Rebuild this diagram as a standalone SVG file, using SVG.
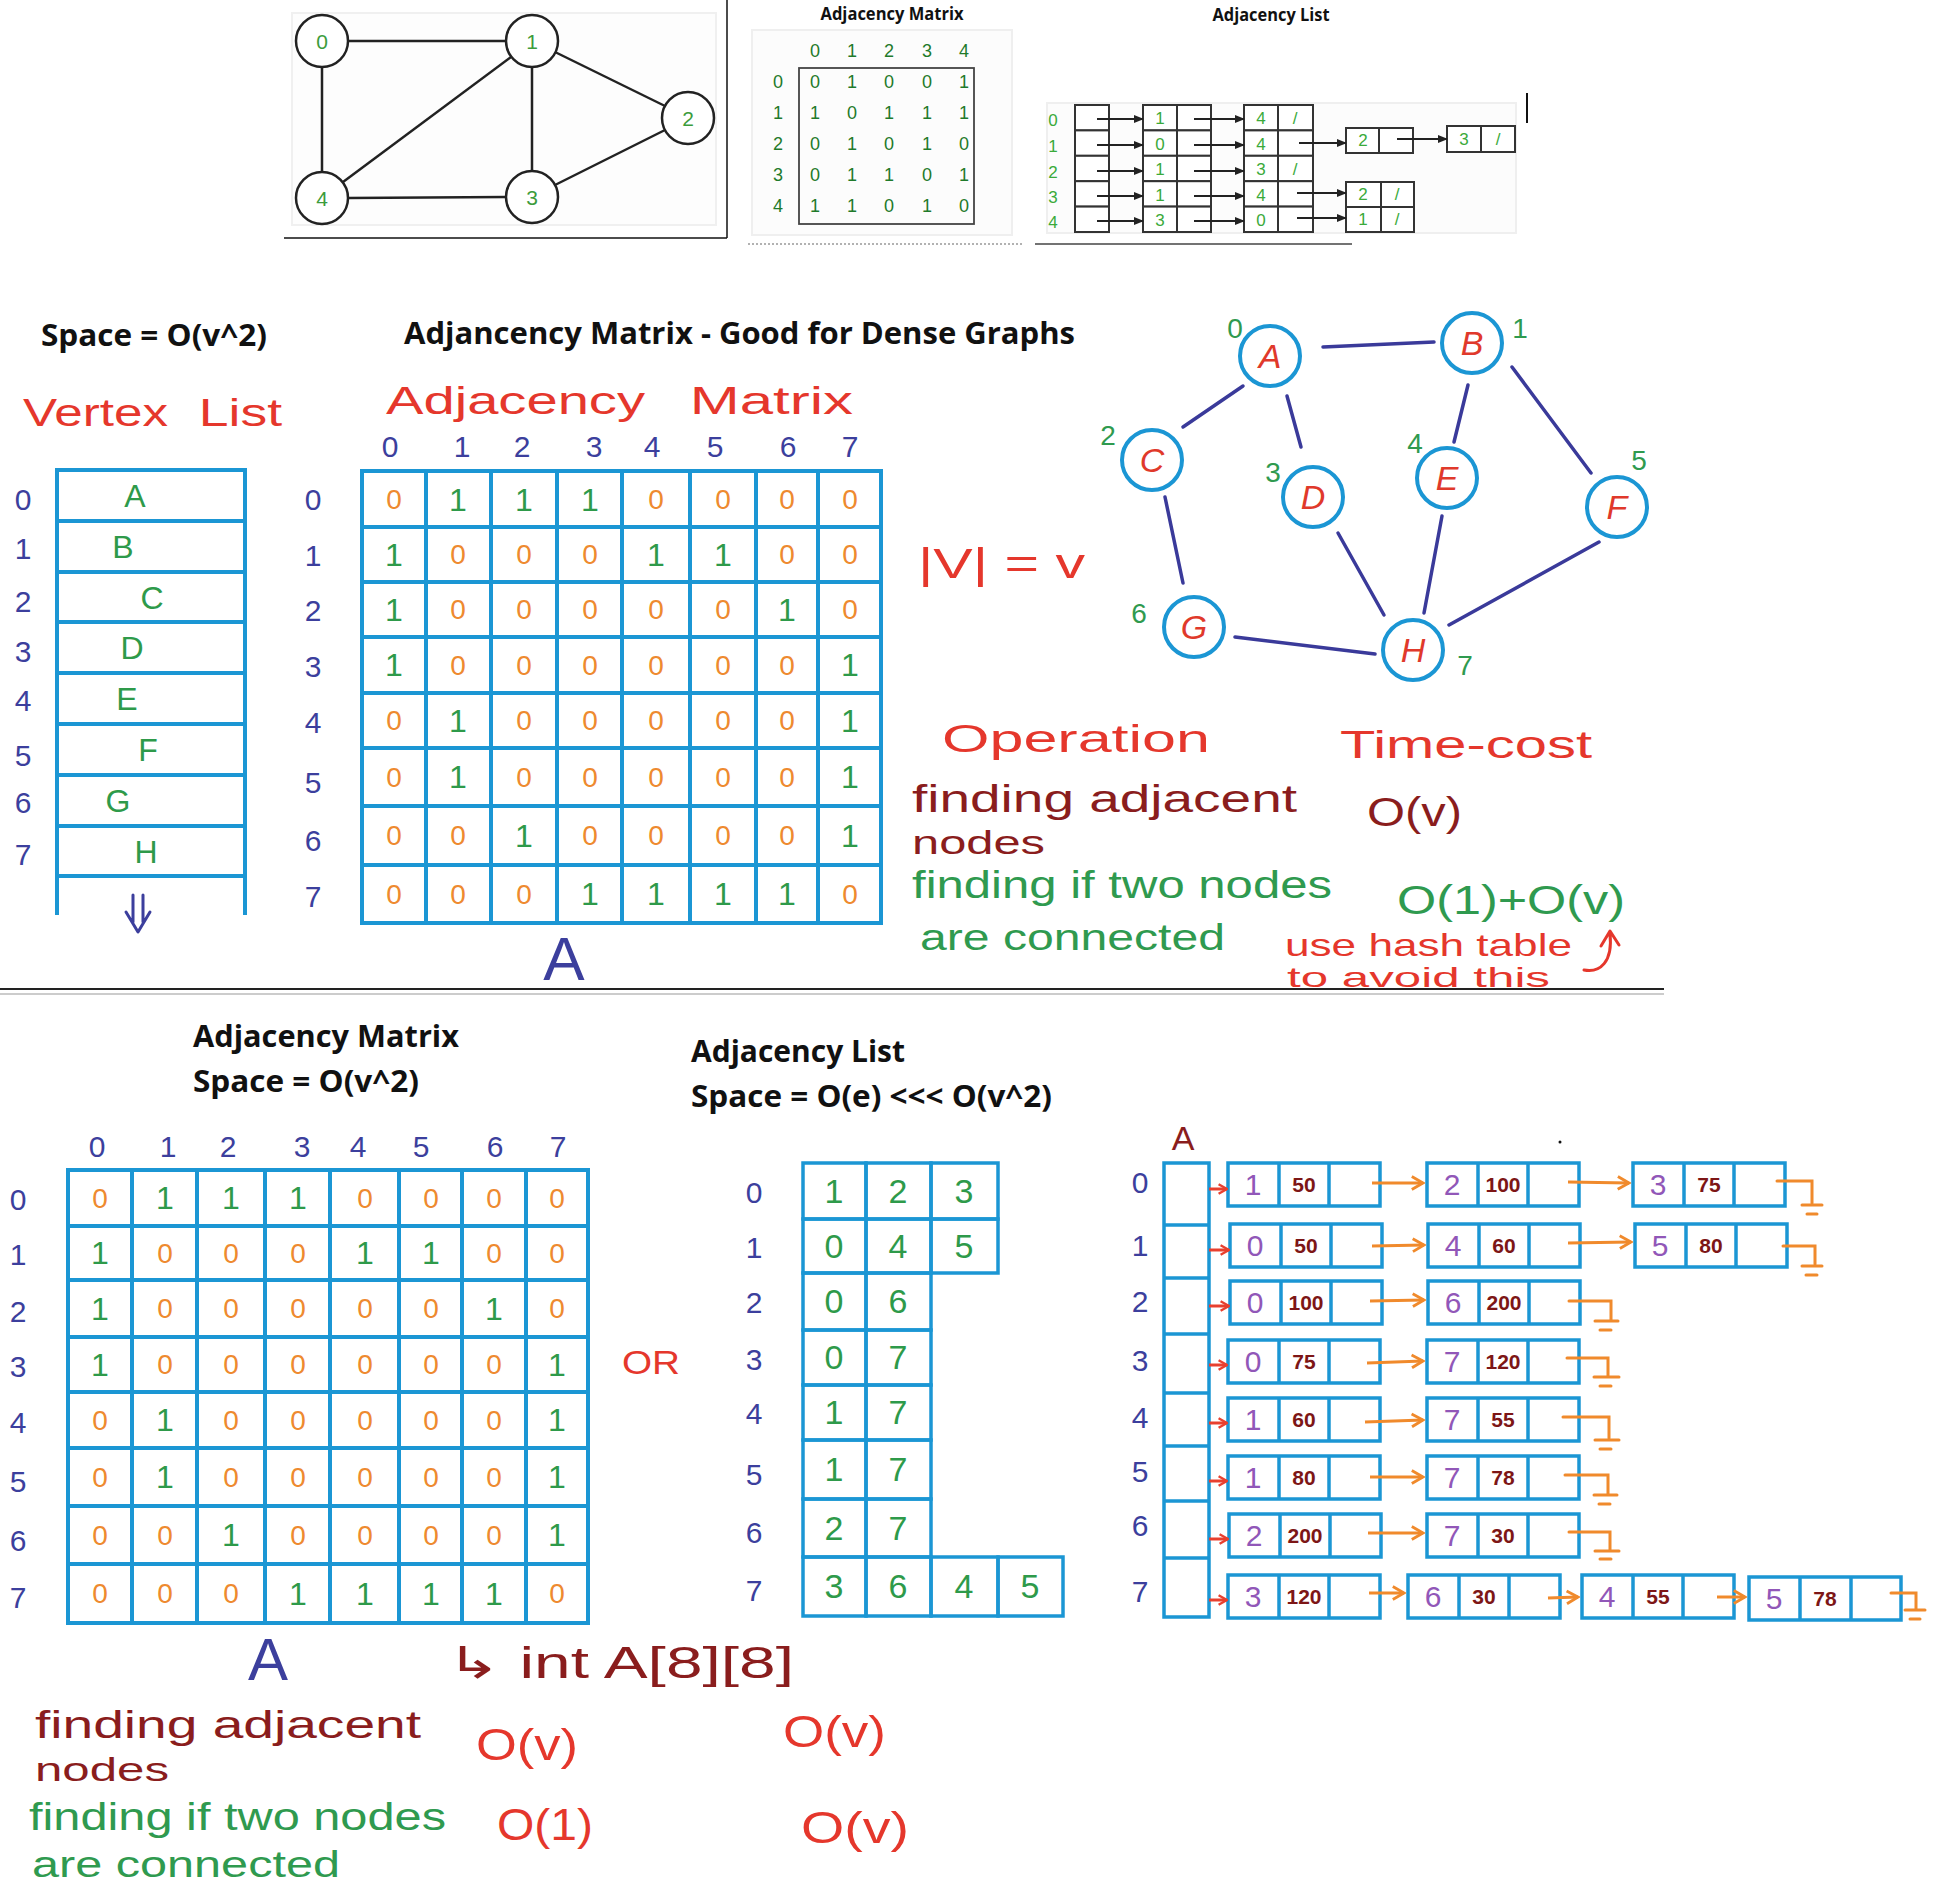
<svg xmlns="http://www.w3.org/2000/svg" width="1938" height="1896" viewBox="0 0 1938 1896">
<style>
text{font-family:"Liberation Sans","DejaVu Sans",Arial,sans-serif}
.ar{font-family:"Liberation Sans",Arial,sans-serif}
.bt{font-family:"Open Sans","Liberation Sans",sans-serif;font-weight:700;fill:#111}
.grid{fill:none;stroke:#1b96d4;stroke-width:4}
.z{fill:#ee8a2f;font-size:28px;text-anchor:middle}
.one{fill:#2e9a4a;font-size:32px;text-anchor:middle}
.idx{fill:#3c3f9d;font-size:30px;text-anchor:middle}
.lt{fill:#2e9a4a;font-size:32px;text-anchor:middle}
.red{fill:#e5372c}
.dred{fill:#8a1d1d}
.grn{fill:#2f9a4f}
.tnode{fill:#fff;stroke:#222;stroke-width:2.5}
.tedge{stroke:#222;stroke-width:2.5}
.tlbl{fill:#3c9c3c;font-size:21px;text-anchor:middle}
.tm{fill:#1f7a2a;font-size:18px;text-anchor:middle}
.tl{fill:#3aaa3a;font-size:17px;text-anchor:middle}
.tbox{fill:#fff;stroke:#333;stroke-width:2}
.tarr{stroke:#222;stroke-width:2;marker-end:url(#ab)}
.gnode{fill:#fff;stroke:#1b96d4;stroke-width:4}
.gl{fill:#e0392b;font-size:34px;font-style:italic;text-anchor:middle}
.gi{fill:#2f9a4f;font-size:28px;text-anchor:middle}
.gedge{stroke:#3a3a9a;stroke-width:3.5;stroke-linecap:round}
.cell{fill:none;stroke:#1b96d4;stroke-width:3.5}
.lv{fill:#2e9a4a;font-size:34px;text-anchor:middle}
.vx{fill:#9157b8;font-size:30px;text-anchor:middle}
.wt{fill:#7d1616;font-size:21px;text-anchor:middle;font-weight:700}
.rarr{stroke:#e8402f;stroke-width:3;marker-end:url(#ar)}
.oarr{stroke:#f08a2c;stroke-width:3;marker-end:url(#ao)}
.nul{fill:none;stroke:#f08a2c;stroke-width:3;stroke-linecap:round}
</style>
<defs>
<marker id="ab" viewBox="0 0 10 10" refX="9" refY="5" markerWidth="10" markerHeight="10" markerUnits="userSpaceOnUse" orient="auto"><path d="M0,1 L10,5 L0,9 z" fill="#222"/></marker>
<marker id="ar" viewBox="0 0 10 10" refX="9" refY="5" markerWidth="12" markerHeight="12" markerUnits="userSpaceOnUse" orient="auto"><path d="M2,1 L9,5 L2,9" fill="none" stroke="#e8402f" stroke-width="2"/></marker>
<marker id="ao" viewBox="0 0 10 10" refX="9" refY="5" markerWidth="16" markerHeight="16" markerUnits="userSpaceOnUse" orient="auto"><path d="M2,1 L9,5 L2,9" fill="none" stroke="#f08a2c" stroke-width="1.8"/></marker>
</defs>
<rect width="1938" height="1896" fill="#fff"/>

<!-- ===== TOP: small graph ===== -->
<g id="top-graph-frame">
<rect x="292" y="13" width="424" height="212" fill="#fdfdfd" stroke="#f0f0f0" stroke-width="2"/>
<line x1="284" y1="238" x2="727" y2="238" stroke="#111" stroke-width="1.5"/>
<line x1="727" y1="0" x2="727" y2="238" stroke="#111" stroke-width="1.5"/>
</g>
<g id="top-graph-edges">
<line class="tedge" x1="348" y1="41" x2="506" y2="41"/>
<line class="tedge" x1="322" y1="67" x2="322" y2="172"/>
<line class="tedge" x1="532" y1="67" x2="532" y2="171"/>
<line class="tedge" x1="348" y1="198" x2="506" y2="197"/>
<line class="tedge" x1="511" y1="57" x2="343" y2="182"/>
<line class="tedge" x1="555" y1="52" x2="665" y2="106"/>
<line class="tedge" x1="665" y1="130" x2="555" y2="185"/>
</g>
<g id="tnode-0"><circle class="tnode" cx="322" cy="41" r="26"/><text class="tlbl" x="322" y="49">0</text></g>
<g id="tnode-1"><circle class="tnode" cx="532" cy="41" r="26"/><text class="tlbl" x="532" y="49">1</text></g>
<g id="tnode-2"><circle class="tnode" cx="688" cy="118" r="26"/><text class="tlbl" x="688" y="126">2</text></g>
<g id="tnode-3"><circle class="tnode" cx="532" cy="197" r="26"/><text class="tlbl" x="532" y="205">3</text></g>
<g id="tnode-4"><circle class="tnode" cx="322" cy="198" r="26"/><text class="tlbl" x="322" y="206">4</text></g>

<!-- ===== TOP: small matrix ===== -->
<g id="top-matrix">
<rect x="752" y="30" width="260" height="205" fill="#fcfcfc" stroke="#efefef" stroke-width="2"/>
<text class="bt" x="892" y="20" font-size="17" text-anchor="middle" textLength="143" lengthAdjust="spacingAndGlyphs">Adjacency Matrix</text>
<rect x="799" y="68" width="175" height="156" fill="none" stroke="#444" stroke-width="1.8"/>
<text class="tm" x="815" y="57">0</text><text class="tm" x="852" y="57">1</text><text class="tm" x="889" y="57">2</text><text class="tm" x="927" y="57">3</text><text class="tm" x="964" y="57">4</text>
<text class="tm" x="778" y="88">0</text><text class="tm" x="778" y="119">1</text><text class="tm" x="778" y="150">2</text><text class="tm" x="778" y="181">3</text><text class="tm" x="778" y="212">4</text>
<text class="tm" x="815" y="88">0</text><text class="tm" x="852" y="88">1</text><text class="tm" x="889" y="88">0</text><text class="tm" x="927" y="88">0</text><text class="tm" x="964" y="88">1</text>
<text class="tm" x="815" y="119">1</text><text class="tm" x="852" y="119">0</text><text class="tm" x="889" y="119">1</text><text class="tm" x="927" y="119">1</text><text class="tm" x="964" y="119">1</text>
<text class="tm" x="815" y="150">0</text><text class="tm" x="852" y="150">1</text><text class="tm" x="889" y="150">0</text><text class="tm" x="927" y="150">1</text><text class="tm" x="964" y="150">0</text>
<text class="tm" x="815" y="181">0</text><text class="tm" x="852" y="181">1</text><text class="tm" x="889" y="181">1</text><text class="tm" x="927" y="181">0</text><text class="tm" x="964" y="181">1</text>
<text class="tm" x="815" y="212">1</text><text class="tm" x="852" y="212">1</text><text class="tm" x="889" y="212">0</text><text class="tm" x="927" y="212">1</text><text class="tm" x="964" y="212">0</text>
<line x1="748" y1="244" x2="1022" y2="244" stroke="#999" stroke-width="1.5" stroke-dasharray="2 2"/>
</g>

<!-- ===== TOP: small adjacency list ===== -->
<g id="top-list">
<text class="bt" x="1271" y="21" font-size="17" text-anchor="middle" textLength="117" lengthAdjust="spacingAndGlyphs">Adjacency List</text>
<rect x="1047" y="103" width="469" height="130" fill="#fcfcfc" stroke="#efefef" stroke-width="2"/>
<text class="tl" x="1053" y="126">0</text><text class="tl" x="1053" y="152">1</text><text class="tl" x="1053" y="178">2</text><text class="tl" x="1053" y="203">3</text><text class="tl" x="1053" y="228">4</text>
<g id="top-list-cells">
<rect class="tbox" x="1075" y="105" width="34" height="25.4"/><rect class="tbox" x="1075" y="130.4" width="34" height="25.4"/><rect class="tbox" x="1075" y="155.8" width="34" height="25.4"/><rect class="tbox" x="1075" y="181.2" width="34" height="25.4"/><rect class="tbox" x="1075" y="206.6" width="34" height="25.4"/>
<rect class="tbox" x="1143" y="105" width="68" height="25.4"/><rect class="tbox" x="1143" y="130.4" width="68" height="25.4"/><rect class="tbox" x="1143" y="155.8" width="68" height="25.4"/><rect class="tbox" x="1143" y="181.2" width="68" height="25.4"/><rect class="tbox" x="1143" y="206.6" width="68" height="25.4"/>
<line x1="1177" y1="105" x2="1177" y2="232" stroke="#333" stroke-width="2"/>
<rect class="tbox" x="1244" y="105" width="69" height="25.4"/><rect class="tbox" x="1244" y="130.4" width="69" height="25.4"/><rect class="tbox" x="1244" y="155.8" width="69" height="25.4"/><rect class="tbox" x="1244" y="181.2" width="69" height="25.4"/><rect class="tbox" x="1244" y="206.6" width="69" height="25.4"/>
<line x1="1278" y1="105" x2="1278" y2="232" stroke="#333" stroke-width="2"/>
<rect class="tbox" x="1346" y="128" width="67" height="25"/><line x1="1379" y1="128" x2="1379" y2="153" stroke="#333" stroke-width="2"/>
<rect class="tbox" x="1447" y="126" width="68" height="26"/><line x1="1481" y1="126" x2="1481" y2="152" stroke="#333" stroke-width="2"/>
<rect class="tbox" x="1346" y="182" width="68" height="25"/><rect class="tbox" x="1346" y="207" width="68" height="25"/><line x1="1381" y1="182" x2="1381" y2="232" stroke="#333" stroke-width="2"/>
</g>
<g id="top-list-arrows">
<line class="tarr" x1="1097" y1="119" x2="1143" y2="119"/><line class="tarr" x1="1097" y1="145" x2="1143" y2="145"/><line class="tarr" x1="1097" y1="171" x2="1143" y2="171"/><line class="tarr" x1="1097" y1="196" x2="1143" y2="196"/><line class="tarr" x1="1097" y1="221" x2="1143" y2="221"/>
<line class="tarr" x1="1194" y1="119" x2="1244" y2="119"/><line class="tarr" x1="1194" y1="145" x2="1244" y2="145"/><line class="tarr" x1="1194" y1="171" x2="1244" y2="171"/><line class="tarr" x1="1194" y1="196" x2="1244" y2="196"/><line class="tarr" x1="1194" y1="221" x2="1244" y2="221"/>
<line class="tarr" x1="1299" y1="143" x2="1346" y2="143"/>
<line class="tarr" x1="1397" y1="139" x2="1447" y2="139"/>
<line class="tarr" x1="1297" y1="193" x2="1346" y2="193"/>
<line class="tarr" x1="1297" y1="218" x2="1346" y2="218"/>
</g>
<text class="tl" x="1160" y="124">1</text><text class="tl" x="1160" y="150">0</text><text class="tl" x="1160" y="175">1</text><text class="tl" x="1160" y="201">1</text><text class="tl" x="1160" y="226">3</text>
<text class="tl" x="1261" y="124">4</text><text class="tl" x="1261" y="150">4</text><text class="tl" x="1261" y="175">3</text><text class="tl" x="1261" y="201">4</text><text class="tl" x="1261" y="226">0</text>
<text class="tl" x="1295" y="124">/</text><text class="tl" x="1295" y="175">/</text>
<text class="tl" x="1363" y="146">2</text>
<text class="tl" x="1464" y="145">3</text><text class="tl" x="1498" y="145">/</text>
<text class="tl" x="1363" y="200">2</text><text class="tl" x="1397" y="200">/</text>
<text class="tl" x="1363" y="225">1</text><text class="tl" x="1397" y="225">/</text>
<line x1="1527" y1="93" x2="1527" y2="123" stroke="#111" stroke-width="2"/>
<line x1="1035" y1="244" x2="1352" y2="244" stroke="#444" stroke-width="1.5"/>
</g>

<!-- ===== MIDDLE SECTION ===== -->
<text class="bt" x="41" y="346" font-size="30" textLength="226" lengthAdjust="spacingAndGlyphs">Space = O(v^2)</text>
<text class="bt" x="404" y="344" font-size="30" textLength="671" lengthAdjust="spacingAndGlyphs">Adjancency Matrix - Good for Dense Graphs</text>

<text class="red" y="426" font-size="38"><tspan x="23" textLength="145" lengthAdjust="spacingAndGlyphs">Vertex</tspan><tspan x="184" textLength="98" lengthAdjust="spacingAndGlyphs"> List</tspan></text>
<text class="red" y="414" font-size="38"><tspan x="386" textLength="259" lengthAdjust="spacingAndGlyphs">Adjacency</tspan><tspan x="673" textLength="180" lengthAdjust="spacingAndGlyphs"> Matrix</tspan></text>

<g id="vertex-list">
<path class="grid" d="M57,915 V470 H245 V915 M57,521 H245 M57,572 H245 M57,622 H245 M57,673 H245 M57,724 H245 M57,775 H245 M57,826 H245 M57,876 H245"/>
<text class="idx" x="23" y="510">0</text><text class="idx" x="23" y="559">1</text><text class="idx" x="23" y="612">2</text><text class="idx" x="23" y="662">3</text><text class="idx" x="23" y="711">4</text><text class="idx" x="23" y="766">5</text><text class="idx" x="23" y="813">6</text><text class="idx" x="23" y="865">7</text>
<text class="lt" x="135" y="507">A</text><text class="lt" x="123" y="558">B</text><text class="lt" x="152" y="609">C</text><text class="lt" x="132" y="659">D</text><text class="lt" x="127" y="710">E</text><text class="lt" x="148" y="761">F</text><text class="lt" x="118" y="812">G</text><text class="lt" x="146" y="863">H</text>
<path d="M133,895 V922 M143,895 V922 M126,912 L138,932 L150,912" fill="none" stroke="#3c3f9d" stroke-width="3" stroke-linecap="round" stroke-linejoin="round"/>
</g>

<g id="mid-matrix">
<path class="grid" d="M362,471 H881 V923 H362 Z M426,471 V923 M491,471 V923 M557,471 V923 M622,471 V923 M690,471 V923 M756,471 V923 M818,471 V923 M362,527 H881 M362,582 H881 M362,637 H881 M362,693 H881 M362,748 H881 M362,806 H881 M362,865 H881"/>
<text class="idx" x="390" y="457" font-size="32">0</text><text class="idx" x="462" y="457" font-size="32">1</text><text class="idx" x="522" y="457" font-size="32">2</text><text class="idx" x="594" y="457" font-size="32">3</text><text class="idx" x="652" y="457" font-size="32">4</text><text class="idx" x="715" y="457" font-size="32">5</text><text class="idx" x="788" y="457" font-size="32">6</text><text class="idx" x="850" y="457" font-size="32">7</text>
<text class="idx" x="313" y="510">0</text><text class="idx" x="313" y="566">1</text><text class="idx" x="313" y="621">2</text><text class="idx" x="313" y="677">3</text><text class="idx" x="313" y="733">4</text><text class="idx" x="313" y="793">5</text><text class="idx" x="313" y="851">6</text><text class="idx" x="313" y="907">7</text>
<text class="z" x="394" y="509">0</text><text class="one" x="458" y="511">1</text><text class="one" x="524" y="511">1</text><text class="one" x="590" y="511">1</text><text class="z" x="656" y="509">0</text><text class="z" x="723" y="509">0</text><text class="z" x="787" y="509">0</text><text class="z" x="850" y="509">0</text>
<text class="one" x="394" y="566">1</text><text class="z" x="458" y="564">0</text><text class="z" x="524" y="564">0</text><text class="z" x="590" y="564">0</text><text class="one" x="656" y="566">1</text><text class="one" x="723" y="566">1</text><text class="z" x="787" y="564">0</text><text class="z" x="850" y="564">0</text>
<text class="one" x="394" y="621">1</text><text class="z" x="458" y="619">0</text><text class="z" x="524" y="619">0</text><text class="z" x="590" y="619">0</text><text class="z" x="656" y="619">0</text><text class="z" x="723" y="619">0</text><text class="one" x="787" y="621">1</text><text class="z" x="850" y="619">0</text>
<text class="one" x="394" y="676">1</text><text class="z" x="458" y="675">0</text><text class="z" x="524" y="675">0</text><text class="z" x="590" y="675">0</text><text class="z" x="656" y="675">0</text><text class="z" x="723" y="675">0</text><text class="z" x="787" y="675">0</text><text class="one" x="850" y="676">1</text>
<text class="z" x="394" y="730">0</text><text class="one" x="458" y="732">1</text><text class="z" x="524" y="730">0</text><text class="z" x="590" y="730">0</text><text class="z" x="656" y="730">0</text><text class="z" x="723" y="730">0</text><text class="z" x="787" y="730">0</text><text class="one" x="850" y="732">1</text>
<text class="z" x="394" y="787">0</text><text class="one" x="458" y="788">1</text><text class="z" x="524" y="787">0</text><text class="z" x="590" y="787">0</text><text class="z" x="656" y="787">0</text><text class="z" x="723" y="787">0</text><text class="z" x="787" y="787">0</text><text class="one" x="850" y="788">1</text>
<text class="z" x="394" y="845">0</text><text class="z" x="458" y="845">0</text><text class="one" x="524" y="847">1</text><text class="z" x="590" y="845">0</text><text class="z" x="656" y="845">0</text><text class="z" x="723" y="845">0</text><text class="z" x="787" y="845">0</text><text class="one" x="850" y="847">1</text>
<text class="z" x="394" y="904">0</text><text class="z" x="458" y="904">0</text><text class="z" x="524" y="904">0</text><text class="one" x="590" y="905">1</text><text class="one" x="656" y="905">1</text><text class="one" x="723" y="905">1</text><text class="one" x="787" y="905">1</text><text class="z" x="850" y="904">0</text>
<text x="564" y="980" font-size="62" fill="#3c3f9d" text-anchor="middle">A</text>
</g>

<text class="red" x="918" y="578" font-size="42" textLength="167" lengthAdjust="spacingAndGlyphs">|V| = v</text>

<!-- middle graph -->
<g id="mid-graph-edges">
<line class="gedge" x1="1323" y1="347" x2="1434" y2="342"/>
<line class="gedge" x1="1243" y1="386" x2="1183" y2="427"/>
<line class="gedge" x1="1287" y1="396" x2="1301" y2="447"/>
<line class="gedge" x1="1468" y1="385" x2="1454" y2="442"/>
<line class="gedge" x1="1512" y1="367" x2="1591" y2="473"/>
<line class="gedge" x1="1165" y1="497" x2="1183" y2="583"/>
<line class="gedge" x1="1338" y1="533" x2="1384" y2="615"/>
<line class="gedge" x1="1442" y1="516" x2="1424" y2="613"/>
<line class="gedge" x1="1599" y1="542" x2="1449" y2="625"/>
<line class="gedge" x1="1235" y1="637" x2="1375" y2="654"/>
</g>
<g id="node-A"><circle class="gnode" cx="1270" cy="356" r="30"/><text class="gl" x="1270" y="368">A</text><text class="gi" x="1235" y="338">0</text></g>
<g id="node-B"><circle class="gnode" cx="1472" cy="343" r="30"/><text class="gl" x="1472" y="355">B</text><text class="gi" x="1520" y="338">1</text></g>
<g id="node-C"><circle class="gnode" cx="1152" cy="460" r="30"/><text class="gl" x="1152" y="472">C</text><text class="gi" x="1108" y="445">2</text></g>
<g id="node-D"><circle class="gnode" cx="1313" cy="497" r="30"/><text class="gl" x="1313" y="509">D</text><text class="gi" x="1273" y="482">3</text></g>
<g id="node-E"><circle class="gnode" cx="1447" cy="478" r="30"/><text class="gl" x="1447" y="490">E</text><text class="gi" x="1415" y="453">4</text></g>
<g id="node-F"><circle class="gnode" cx="1617" cy="507" r="30"/><text class="gl" x="1617" y="519">F</text><text class="gi" x="1639" y="470">5</text></g>
<g id="node-G"><circle class="gnode" cx="1194" cy="627" r="30"/><text class="gl" x="1194" y="639">G</text><text class="gi" x="1139" y="623">6</text></g>
<g id="node-H"><circle class="gnode" cx="1413" cy="650" r="30"/><text class="gl" x="1413" y="662">H</text><text class="gi" x="1465" y="675">7</text></g>

<g id="mid-ops">
<text class="red" x="942" y="752" font-size="38" textLength="268" lengthAdjust="spacingAndGlyphs">Operation</text>
<text class="red" x="1340" y="758" font-size="38" textLength="252" lengthAdjust="spacingAndGlyphs">Time-cost</text>
<text class="dred" x="912" y="812" font-size="38" textLength="385" lengthAdjust="spacingAndGlyphs">finding adjacent</text>
<text class="dred" x="912" y="854" font-size="34" textLength="133" lengthAdjust="spacingAndGlyphs">nodes</text>
<text class="dred" x="1367" y="826" font-size="40" textLength="95" lengthAdjust="spacingAndGlyphs">O(v)</text>
<text class="grn" x="912" y="898" font-size="38" textLength="420" lengthAdjust="spacingAndGlyphs">finding if two nodes</text>
<text class="grn" x="920" y="950" font-size="36" textLength="305" lengthAdjust="spacingAndGlyphs">are connected</text>
<text class="grn" x="1397" y="914" font-size="40" textLength="228" lengthAdjust="spacingAndGlyphs">O(1)+O(v)</text>
<text class="red" x="1285" y="956" font-size="32" textLength="287" lengthAdjust="spacingAndGlyphs">use hash table</text>
<text class="red" x="1287" y="987" font-size="28" textLength="263" lengthAdjust="spacingAndGlyphs">to avoid this</text>
<path d="M1584,970 C1600,973 1613,962 1610,934 M1601,946 L1610,931 L1619,945" fill="none" stroke="#e5372c" stroke-width="3" stroke-linecap="round" stroke-linejoin="round"/>
</g>

<line x1="0" y1="989" x2="1664" y2="989" stroke="#222" stroke-width="2"/>
<line x1="0" y1="994" x2="1664" y2="994" stroke="#999" stroke-width="1"/>

<!-- ===== BOTTOM SECTION ===== -->
<text class="bt" x="193" y="1047" font-size="30" textLength="266" lengthAdjust="spacingAndGlyphs">Adjacency Matrix</text>
<text class="bt" x="193" y="1092" font-size="30" textLength="226" lengthAdjust="spacingAndGlyphs">Space = O(v^2)</text>
<text class="bt" x="691" y="1062" font-size="30" textLength="214" lengthAdjust="spacingAndGlyphs">Adjacency List</text>
<text class="bt" x="691" y="1107" font-size="30" textLength="361" lengthAdjust="spacingAndGlyphs">Space = O(e) &lt;&lt;&lt; O(v^2)</text>

<g id="bottom-matrix">
<path class="grid" d="M68,1170 H588 V1623 H68 Z M132,1170 V1623 M197,1170 V1623 M265,1170 V1623 M330,1170 V1623 M399,1170 V1623 M462,1170 V1623 M526,1170 V1623 M68,1226 H588 M68,1280 H588 M68,1337 H588 M68,1392 H588 M68,1448 H588 M68,1506 H588 M68,1564 H588"/>
<text class="idx" x="97" y="1157" font-size="32">0</text><text class="idx" x="168" y="1157" font-size="32">1</text><text class="idx" x="228" y="1157" font-size="32">2</text><text class="idx" x="302" y="1157" font-size="32">3</text><text class="idx" x="358" y="1157" font-size="32">4</text><text class="idx" x="421" y="1157" font-size="32">5</text><text class="idx" x="495" y="1157" font-size="32">6</text><text class="idx" x="558" y="1157" font-size="32">7</text>
<text class="idx" x="18" y="1210">0</text><text class="idx" x="18" y="1265">1</text><text class="idx" x="18" y="1322">2</text><text class="idx" x="18" y="1377">3</text><text class="idx" x="18" y="1433">4</text><text class="idx" x="18" y="1492">5</text><text class="idx" x="18" y="1551">6</text><text class="idx" x="18" y="1608">7</text>
<text class="z" x="100" y="1208">0</text><text class="one" x="165" y="1209">1</text><text class="one" x="231" y="1209">1</text><text class="one" x="298" y="1209">1</text><text class="z" x="365" y="1208">0</text><text class="z" x="431" y="1208">0</text><text class="z" x="494" y="1208">0</text><text class="z" x="557" y="1208">0</text>
<text class="one" x="100" y="1264">1</text><text class="z" x="165" y="1263">0</text><text class="z" x="231" y="1263">0</text><text class="z" x="298" y="1263">0</text><text class="one" x="365" y="1264">1</text><text class="one" x="431" y="1264">1</text><text class="z" x="494" y="1263">0</text><text class="z" x="557" y="1263">0</text>
<text class="one" x="100" y="1320">1</text><text class="z" x="165" y="1318">0</text><text class="z" x="231" y="1318">0</text><text class="z" x="298" y="1318">0</text><text class="z" x="365" y="1318">0</text><text class="z" x="431" y="1318">0</text><text class="one" x="494" y="1320">1</text><text class="z" x="557" y="1318">0</text>
<text class="one" x="100" y="1376">1</text><text class="z" x="165" y="1374">0</text><text class="z" x="231" y="1374">0</text><text class="z" x="298" y="1374">0</text><text class="z" x="365" y="1374">0</text><text class="z" x="431" y="1374">0</text><text class="z" x="494" y="1374">0</text><text class="one" x="557" y="1376">1</text>
<text class="z" x="100" y="1430">0</text><text class="one" x="165" y="1431">1</text><text class="z" x="231" y="1430">0</text><text class="z" x="298" y="1430">0</text><text class="z" x="365" y="1430">0</text><text class="z" x="431" y="1430">0</text><text class="z" x="494" y="1430">0</text><text class="one" x="557" y="1431">1</text>
<text class="z" x="100" y="1487">0</text><text class="one" x="165" y="1488">1</text><text class="z" x="231" y="1487">0</text><text class="z" x="298" y="1487">0</text><text class="z" x="365" y="1487">0</text><text class="z" x="431" y="1487">0</text><text class="z" x="494" y="1487">0</text><text class="one" x="557" y="1488">1</text>
<text class="z" x="100" y="1545">0</text><text class="z" x="165" y="1545">0</text><text class="one" x="231" y="1546">1</text><text class="z" x="298" y="1545">0</text><text class="z" x="365" y="1545">0</text><text class="z" x="431" y="1545">0</text><text class="z" x="494" y="1545">0</text><text class="one" x="557" y="1546">1</text>
<text class="z" x="100" y="1603">0</text><text class="z" x="165" y="1603">0</text><text class="z" x="231" y="1603">0</text><text class="one" x="298" y="1605">1</text><text class="one" x="365" y="1605">1</text><text class="one" x="431" y="1605">1</text><text class="one" x="494" y="1605">1</text><text class="z" x="557" y="1603">0</text>
<text x="268" y="1680" font-size="60" fill="#3c3f9d" text-anchor="middle">A</text>
</g>

<text class="red" x="622" y="1374" font-size="34" textLength="58" lengthAdjust="spacingAndGlyphs">OR</text>
<text class="dred" x="446" y="1678" font-size="44" textLength="348" lengthAdjust="spacingAndGlyphs">↳ int A[8][8]</text>

<g id="bottom-list-array">
<rect class="cell" x="803" y="1163" width="63" height="56"/><rect class="cell" x="866" y="1163" width="65" height="56"/><rect class="cell" x="931" y="1163" width="67" height="56"/>
<rect class="cell" x="803" y="1219" width="63" height="54"/><rect class="cell" x="866" y="1219" width="65" height="54"/><rect class="cell" x="931" y="1219" width="67" height="54"/>
<rect class="cell" x="803" y="1273" width="63" height="57"/><rect class="cell" x="866" y="1273" width="65" height="57"/>
<rect class="cell" x="803" y="1330" width="63" height="55"/><rect class="cell" x="866" y="1330" width="65" height="55"/>
<rect class="cell" x="803" y="1385" width="63" height="55"/><rect class="cell" x="866" y="1385" width="65" height="55"/>
<rect class="cell" x="803" y="1440" width="63" height="59"/><rect class="cell" x="866" y="1440" width="65" height="59"/>
<rect class="cell" x="803" y="1499" width="63" height="58"/><rect class="cell" x="866" y="1499" width="65" height="58"/>
<rect class="cell" x="803" y="1557" width="63" height="59"/><rect class="cell" x="866" y="1557" width="65" height="59"/><rect class="cell" x="931" y="1557" width="67" height="59"/><rect class="cell" x="998" y="1557" width="65" height="59"/>
<text class="idx" x="754" y="1203" font-size="28">0</text><text class="idx" x="754" y="1258" font-size="28">1</text><text class="idx" x="754" y="1313" font-size="28">2</text><text class="idx" x="754" y="1370" font-size="28">3</text><text class="idx" x="754" y="1424" font-size="28">4</text><text class="idx" x="754" y="1485" font-size="28">5</text><text class="idx" x="754" y="1543" font-size="28">6</text><text class="idx" x="754" y="1601" font-size="28">7</text>
<text class="lv" x="834" y="1203">1</text><text class="lv" x="898" y="1203">2</text><text class="lv" x="964" y="1203">3</text>
<text class="lv" x="834" y="1258">0</text><text class="lv" x="898" y="1258">4</text><text class="lv" x="964" y="1258">5</text>
<text class="lv" x="834" y="1313">0</text><text class="lv" x="898" y="1313">6</text>
<text class="lv" x="834" y="1369">0</text><text class="lv" x="898" y="1369">7</text>
<text class="lv" x="834" y="1424">1</text><text class="lv" x="898" y="1424">7</text>
<text class="lv" x="834" y="1481">1</text><text class="lv" x="898" y="1481">7</text>
<text class="lv" x="834" y="1540">2</text><text class="lv" x="898" y="1540">7</text>
<text class="lv" x="834" y="1598">3</text><text class="lv" x="898" y="1598">6</text><text class="lv" x="964" y="1598">4</text><text class="lv" x="1030" y="1598">5</text>
</g>

<!-- bottom right linked lists -->
<g id="ll-array">
<text class="dred" x="1183" y="1150" font-size="34" text-anchor="middle">A</text>
<circle cx="1560" cy="1142" r="1.5" fill="#111"/>
<path class="cell" d="M1164,1163 H1209 V1617 H1164 Z M1164,1225 H1209 M1164,1278 H1209 M1164,1334 H1209 M1164,1393 H1209 M1164,1446 H1209 M1164,1501 H1209 M1164,1558 H1209"/>
<text class="idx" x="1140" y="1193">0</text><text class="idx" x="1140" y="1256">1</text><text class="idx" x="1140" y="1312">2</text><text class="idx" x="1140" y="1371">3</text><text class="idx" x="1140" y="1428">4</text><text class="idx" x="1140" y="1482">5</text><text class="idx" x="1140" y="1536">6</text><text class="idx" x="1140" y="1602">7</text>
</g>

<g id="ll-nodes">
<g id="ll-0-1"><path class="cell" d="M1228,1163 h152 v43 h-152 z M1279,1163 v43 M1329,1163 v43"/><text class="vx" x="1253" y="1195">1</text><text class="wt" x="1304" y="1192">50</text></g>
<g id="ll-0-2"><path class="cell" d="M1427,1163 h152 v43 h-152 z M1478,1163 v43 M1528,1163 v43"/><text class="vx" x="1452" y="1195">2</text><text class="wt" x="1503" y="1192">100</text></g>
<g id="ll-0-3"><path class="cell" d="M1633,1163 h152 v43 h-152 z M1684,1163 v43 M1734,1163 v43"/><text class="vx" x="1658" y="1195">3</text><text class="wt" x="1709" y="1192">75</text></g>
<g id="ll-1-1"><path class="cell" d="M1230,1224 h152 v43 h-152 z M1281,1224 v43 M1331,1224 v43"/><text class="vx" x="1255" y="1256">0</text><text class="wt" x="1306" y="1253">50</text></g>
<g id="ll-1-2"><path class="cell" d="M1428,1224 h152 v43 h-152 z M1479,1224 v43 M1529,1224 v43"/><text class="vx" x="1453" y="1256">4</text><text class="wt" x="1504" y="1253">60</text></g>
<g id="ll-1-3"><path class="cell" d="M1635,1224 h152 v43 h-152 z M1686,1224 v43 M1736,1224 v43"/><text class="vx" x="1660" y="1256">5</text><text class="wt" x="1711" y="1253">80</text></g>
<g id="ll-2-1"><path class="cell" d="M1230,1281 h152 v43 h-152 z M1281,1281 v43 M1331,1281 v43"/><text class="vx" x="1255" y="1313">0</text><text class="wt" x="1306" y="1310">100</text></g>
<g id="ll-2-2"><path class="cell" d="M1428,1281 h152 v43 h-152 z M1479,1281 v43 M1529,1281 v43"/><text class="vx" x="1453" y="1313">6</text><text class="wt" x="1504" y="1310">200</text></g>
<g id="ll-3-1"><path class="cell" d="M1228,1340 h152 v43 h-152 z M1279,1340 v43 M1329,1340 v43"/><text class="vx" x="1253" y="1372">0</text><text class="wt" x="1304" y="1369">75</text></g>
<g id="ll-3-2"><path class="cell" d="M1427,1340 h152 v43 h-152 z M1478,1340 v43 M1528,1340 v43"/><text class="vx" x="1452" y="1372">7</text><text class="wt" x="1503" y="1369">120</text></g>
<g id="ll-4-1"><path class="cell" d="M1228,1398 h152 v43 h-152 z M1279,1398 v43 M1329,1398 v43"/><text class="vx" x="1253" y="1430">1</text><text class="wt" x="1304" y="1427">60</text></g>
<g id="ll-4-2"><path class="cell" d="M1427,1398 h152 v43 h-152 z M1478,1398 v43 M1528,1398 v43"/><text class="vx" x="1452" y="1430">7</text><text class="wt" x="1503" y="1427">55</text></g>
<g id="ll-5-1"><path class="cell" d="M1228,1456 h152 v43 h-152 z M1279,1456 v43 M1329,1456 v43"/><text class="vx" x="1253" y="1488">1</text><text class="wt" x="1304" y="1485">80</text></g>
<g id="ll-5-2"><path class="cell" d="M1427,1456 h152 v43 h-152 z M1478,1456 v43 M1528,1456 v43"/><text class="vx" x="1452" y="1488">7</text><text class="wt" x="1503" y="1485">78</text></g>
<g id="ll-6-1"><path class="cell" d="M1229,1514 h152 v43 h-152 z M1280,1514 v43 M1330,1514 v43"/><text class="vx" x="1254" y="1546">2</text><text class="wt" x="1305" y="1543">200</text></g>
<g id="ll-6-2"><path class="cell" d="M1427,1514 h152 v43 h-152 z M1478,1514 v43 M1528,1514 v43"/><text class="vx" x="1452" y="1546">7</text><text class="wt" x="1503" y="1543">30</text></g>
<g id="ll-7-1"><path class="cell" d="M1228,1575 h152 v43 h-152 z M1279,1575 v43 M1329,1575 v43"/><text class="vx" x="1253" y="1607">3</text><text class="wt" x="1304" y="1604">120</text></g>
<g id="ll-7-2"><path class="cell" d="M1408,1575 h152 v43 h-152 z M1459,1575 v43 M1509,1575 v43"/><text class="vx" x="1433" y="1607">6</text><text class="wt" x="1484" y="1604">30</text></g>
<g id="ll-7-3"><path class="cell" d="M1582,1575 h152 v43 h-152 z M1633,1575 v43 M1683,1575 v43"/><text class="vx" x="1607" y="1607">4</text><text class="wt" x="1658" y="1604">55</text></g>
<g id="ll-7-4"><path class="cell" d="M1749,1577 h152 v43 h-152 z M1800,1577 v43 M1851,1577 v43"/><text class="vx" x="1774" y="1609">5</text><text class="wt" x="1825" y="1606">78</text></g>
</g>

<g id="ll-connectors">
<line class="rarr" x1="1209" y1="1189" x2="1227" y2="1189"/>
<line class="rarr" x1="1209" y1="1250" x2="1229" y2="1250"/>
<line class="rarr" x1="1209" y1="1306" x2="1229" y2="1306"/>
<line class="rarr" x1="1209" y1="1365" x2="1227" y2="1365"/>
<line class="rarr" x1="1209" y1="1423" x2="1227" y2="1423"/>
<line class="rarr" x1="1209" y1="1481" x2="1227" y2="1481"/>
<line class="rarr" x1="1209" y1="1539" x2="1228" y2="1539"/>
<line class="rarr" x1="1209" y1="1600" x2="1227" y2="1600"/>
<line class="oarr" x1="1372" y1="1183" x2="1423" y2="1183"/>
<line class="oarr" x1="1568" y1="1182" x2="1629" y2="1183"/>
<line class="oarr" x1="1372" y1="1246" x2="1424" y2="1245"/>
<line class="oarr" x1="1568" y1="1243" x2="1631" y2="1242"/>
<line class="oarr" x1="1370" y1="1301" x2="1424" y2="1300"/>
<line class="oarr" x1="1367" y1="1363" x2="1423" y2="1361"/>
<line class="oarr" x1="1365" y1="1422" x2="1423" y2="1420"/>
<line class="oarr" x1="1370" y1="1477" x2="1423" y2="1477"/>
<line class="oarr" x1="1368" y1="1533" x2="1423" y2="1533"/>
<line class="oarr" x1="1369" y1="1593" x2="1404" y2="1593"/>
<line class="oarr" x1="1548" y1="1598" x2="1578" y2="1597"/>
<line class="oarr" x1="1717" y1="1597" x2="1745" y2="1597"/>
<path class="nul" d="M1777,1181 H1812 V1203 M1802,1205 H1822 M1807,1214 H1817"/>
<path class="nul" d="M1783,1246 H1815 V1264 M1802,1266 H1822 M1806,1275 H1817"/>
<path class="nul" d="M1569,1301 H1611 V1320 M1595,1321 H1618 M1600,1330 H1611"/>
<path class="nul" d="M1567,1358 H1608 V1377 M1594,1377 H1619 M1600,1386 H1611"/>
<path class="nul" d="M1563,1417 H1609 V1438 M1595,1440 H1619 M1600,1449 H1611"/>
<path class="nul" d="M1565,1475 H1608 V1494 M1594,1495 H1617 M1599,1504 H1610"/>
<path class="nul" d="M1569,1532 H1610 V1550 M1595,1551 H1619 M1600,1559 H1611"/>
<path class="nul" d="M1891,1593 H1916 V1609 M1905,1610 H1925 M1910,1619 H1920"/>
</g>

<g id="bottom-ops">
<text class="dred" x="35" y="1738" font-size="38" textLength="386" lengthAdjust="spacingAndGlyphs">finding adjacent</text>
<text class="dred" x="35" y="1781" font-size="34" textLength="134" lengthAdjust="spacingAndGlyphs">nodes</text>
<text class="red" x="476" y="1760" font-size="44" textLength="102" lengthAdjust="spacingAndGlyphs">O(v)</text>
<text class="red" x="783" y="1747" font-size="44" textLength="103" lengthAdjust="spacingAndGlyphs">O(v)</text>
<text class="grn" x="29" y="1830" font-size="38" textLength="417" lengthAdjust="spacingAndGlyphs">finding if two nodes</text>
<text class="red" x="497" y="1840" font-size="44" textLength="96" lengthAdjust="spacingAndGlyphs">O(1)</text>
<text class="red" x="801" y="1843" font-size="44" textLength="108" lengthAdjust="spacingAndGlyphs">O(v)</text>
<text class="grn" x="32" y="1877" font-size="36" textLength="308" lengthAdjust="spacingAndGlyphs">are connected</text>
</g>
</svg>
